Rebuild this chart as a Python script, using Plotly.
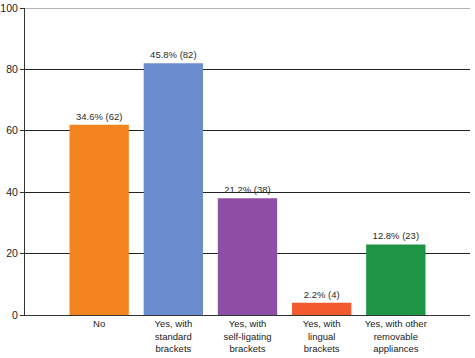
import plotly.graph_objects as go

categories = ["No", "Yes, with<br>standard<br>brackets", "Yes, with<br>self-ligating<br>brackets",
              "Yes, with<br>lingual<br>brackets", "Yes, with other<br>removable<br>appliances"]
counts = [62, 82, 38, 4, 23]
percents = [34.6, 45.8, 21.2, 2.2, 12.8]
colors = ["#F4841F", "#6B8DD0", "#8E4EA6", "#F15B2D", "#1E9447"]
y_ticks = [0, 20, 40, 60, 80, 100]

xs = list(range(len(categories)))
labels = [f"{p}% ({c})" for p, c in zip(percents, counts)]

FONT = "Liberation Sans Narrow, Liberation Sans, Arial"

fig = go.Figure()
fig.add_trace(go.Bar(
    x=xs, y=counts, width=0.8,
    marker=dict(color=colors, line=dict(width=0)),
    text=labels, textposition="outside", cliponaxis=False,
    textfont=dict(size=9.5, color="#2a2a2a", family=FONT),
))

fig.add_shape(type="line", xref="paper", yref="y", x0=0, x1=1, y0=100, y1=100,
              line=dict(color="#9a9a9a", width=1.5), layer="above")

fig.update_layout(
    width=475, height=358,
    margin=dict(l=25, r=5, t=8, b=43),
    paper_bgcolor="white", plot_bgcolor="white",
    showlegend=False, bargap=0.2,
    font=dict(family=FONT, size=10, color="#222222"),
)
fig.update_xaxes(
    range=[-1, 5], tickvals=xs, ticktext=categories, automargin=False,
    showgrid=False, zeroline=False, showline=True, linecolor="#333333", linewidth=1,
    ticks="", tickfont=dict(size=9.5, color="#222222"),
)
fig.update_yaxes(
    range=[0, 100], tickvals=y_ticks, showgrid=True, gridcolor="#222222", gridwidth=1,
    zeroline=False, showline=True, linecolor="#333333", linewidth=1, automargin=False,
    ticks="outside", ticklen=4, tickcolor="#333333",
    tickfont=dict(size=10.5, color="#222222"),
)

fig.write_html("out.html", config={"displayModeBar": False},
               post_script="document.body.style.margin='0';document.body.style.overflow='hidden';")
